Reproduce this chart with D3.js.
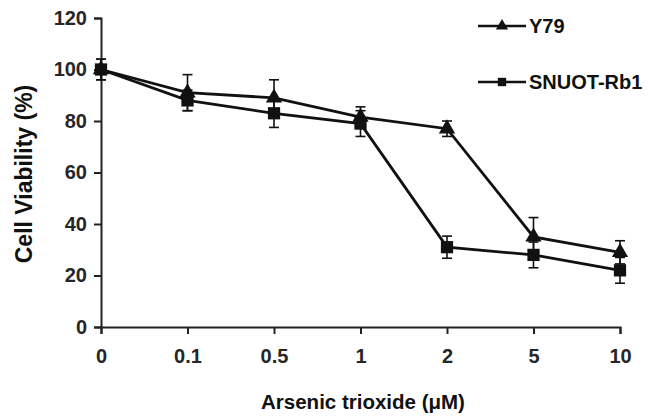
<!DOCTYPE html>
<html>
<head>
<meta charset="utf-8">
<script src="https://cdn.jsdelivr.net/npm/d3@7"></script>
<style>
  html, body { margin: 0; padding: 0; background: #fff; }
  svg { display: block; font-family: "Liberation Sans", Arial, sans-serif; }
</style>
</head>
<body>
<svg id="chart" width="650" height="416"></svg>
<script>
const doses = ["0", "0.1", "0.5", "1", "2", "5", "10"];
const y79 = [100, 91, 89, 81.5, 77, 35, 29];
const y79Err = [4, 7, 7, 4, 3, 7.5, 4.5];
const snuot = [100, 88, 83, 79, 31, 28, 22];
const snuotErr = [4, 4, 5.5, 5, 4.3, 5, 5];
const yTicks = [0, 20, 40, 60, 80, 100, 120];
const seriesNames = ["Y79", "SNUOT-Rb1"];

const svg = d3.select("#chart");
const x = d3.scalePoint().domain(doses).range([101, 620]).padding(0);
const y = d3.scaleLinear().domain([0, 120]).range([327, 18]);

// axes
const yAxis = svg.append("g").attr("transform", "translate(101,0)")
  .call(d3.axisLeft(y).tickValues(yTicks).tickSize(7).tickPadding(7));
const xAxis = svg.append("g").attr("transform", "translate(0,327)")
  .call(d3.axisBottom(x).tickSize(7).tickPadding(15));
[yAxis, xAxis].forEach(g => {
  g.select(".domain").attr("stroke", "#222").attr("stroke-width", 2);
  g.selectAll(".tick line").attr("stroke", "#222").attr("stroke-width", 2);
  g.selectAll(".tick text").attr("fill", "#262626")
    .style("font-size", "20px").style("font-weight", "bold")
    .style("font-family", "'Liberation Sans', Arial, sans-serif");
});

// axis titles
svg.append("text").attr("x", 363).attr("y", 409).attr("text-anchor", "middle")
  .style("font-size", "20.5px").style("font-weight", "bold").attr("fill", "#111")
  .text("Arsenic trioxide (\u03BCM)");
svg.append("text").attr("transform", "translate(32,174) rotate(-90)")
  .attr("text-anchor", "middle")
  .style("font-size", "23px").style("font-weight", "bold").attr("fill", "#111")
  .text("Cell Viability (%)");

const series = [
  { name: seriesNames[0], vals: y79, errs: y79Err, sym: d3.symbolTriangle, size: 115, lsize: 65 },
  { name: seriesNames[1], vals: snuot, errs: snuotErr, sym: d3.symbolSquare, size: 150, lsize: 70 }
];

const line = d3.line().x((d, i) => x(doses[i])).y(d => y(d));

series.forEach(s => {
  const g = svg.append("g");
  // error bars
  s.vals.forEach((v, i) => {
    const cx = x(doses[i]);
    const e = s.errs[i];
    g.append("line").attr("x1", cx).attr("x2", cx).attr("y1", y(v + e)).attr("y2", y(v - e))
      .attr("stroke", "#111").attr("stroke-width", 1.6);
    [v + e, v - e].forEach(t => {
      g.append("line").attr("x1", cx - 5).attr("x2", cx + 5).attr("y1", y(t)).attr("y2", y(t))
        .attr("stroke", "#111").attr("stroke-width", 1.6);
    });
  });
  g.append("path").datum(s.vals).attr("d", line).attr("fill", "none")
    .attr("stroke", "#111").attr("stroke-width", 2.8);
  g.selectAll("path.m").data(s.vals).enter().append("path").attr("class", "m")
    .attr("transform", (d, i) => `translate(${x(doses[i])},${y(d)})`)
    .attr("d", d3.symbol().type(s.sym).size(s.size)).attr("fill", "#111");
});

// legend
const legendY = [26, 82];
series.forEach((s, i) => {
  const ly = legendY[i];
  const x2 = 526;
  svg.append("line").attr("x1", 478).attr("x2", x2).attr("y1", ly).attr("y2", ly)
    .attr("stroke", "#111").attr("stroke-width", 2.6);
  svg.append("path").attr("transform", `translate(502,${ly})`)
    .attr("d", d3.symbol().type(s.sym).size(s.lsize)).attr("fill", "#111");
  svg.append("text").attr("x", 529).attr("y", ly).attr("dy", "0.35em")
    .style("font-size", "20px").style("font-weight", "bold").attr("fill", "#111")
    .text(s.name);
});
</script>
</body>
</html>
